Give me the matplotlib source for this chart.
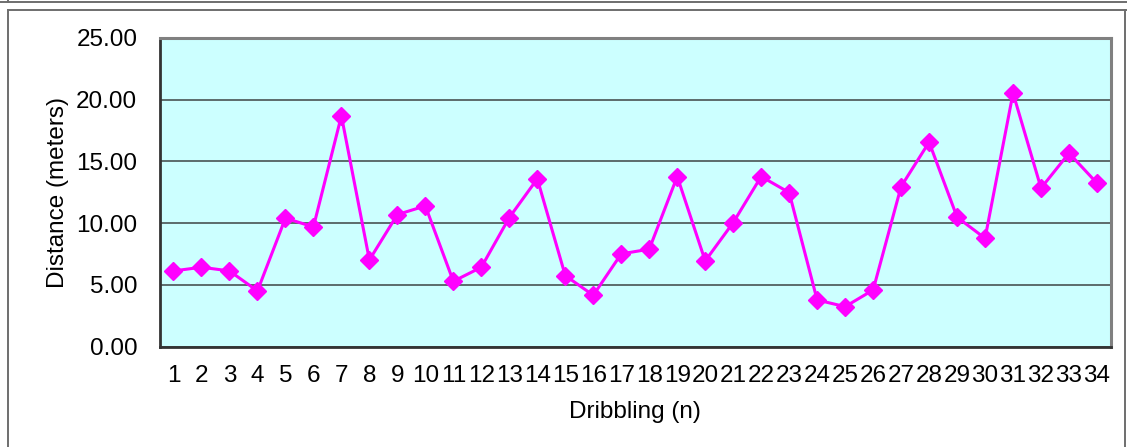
import matplotlib
matplotlib.use("Agg")
import matplotlib.pyplot as plt
from matplotlib.lines import Line2D

plt.rcParams['font.family'] = ['Liberation Sans', 'DejaVu Sans']

# distance covered per dribbling trial
trials = list(range(1, 35))
distance = [6.13, 6.43, 6.13, 4.51, 10.40, 9.69, 18.68, 7.02, 10.69, 11.39,
            5.29, 6.43, 10.45, 13.58, 5.75, 4.16, 7.51, 7.89, 13.77, 6.94,
            10.04, 13.77, 12.47, 3.78, 3.24, 4.59, 12.96, 16.55, 10.48, 8.77,
            20.52, 12.83, 15.66, 13.23]
y_ticks = [0, 5, 10, 15, 20, 25]

W, H = 1127, 447
fig = plt.figure(figsize=(W / 100, H / 100), dpi=100)

def px(x0, y0, x1, y1, **kw):
    fig.add_artist(Line2D([x0 / W, x1 / W], [1 - y0 / H, 1 - y1 / H],
                          transform=fig.transFigure, **kw))

# chart frame
px(0, 2, W, 2, color='#6e6e6e', lw=1.4)
px(8, 0, 8, 2, color='#6e6e6e', lw=1.4)
px(8, 9.5, W, 9.5, color='#6e6e6e', lw=1.4)
px(8, 9.5, 8, H, color='#6e6e6e', lw=1.4)
px(1125, 9.5, 1125, H, color='#6e6e6e', lw=1.4)

ax = fig.add_axes([159.5 / W, (H - 346.7) / H, 951.5 / W, 309 / H])
ax.set_facecolor('#CCFFFF')

ax.plot(trials, distance, color='#FF00FF', lw=2.2, marker='D',
        markersize=9.5, markerfacecolor='#FF00FF', markeredgecolor='#FF00FF',
        zorder=3)

ax.set_xlim(0.5, 34.5)
ax.set_ylim(0, 25)
ax.set_yticks(y_ticks)
ax.set_yticklabels([f'{v:.2f}' for v in y_ticks])
ax.set_xticks(trials)
ax.set_xticklabels([str(t) for t in trials])
ax.grid(axis='y', color='#536060', lw=1.3, zorder=1)
ax.set_axisbelow(True)

ax.tick_params(axis='y', length=0, pad=16, labelsize=17.5)
ax.tick_params(axis='x', length=0, pad=13, labelsize=17.5)

for side in ['top', 'right']:
    ax.spines[side].set_color('#808080')
    ax.spines[side].set_linewidth(2.2)
for side in ['left', 'bottom']:
    ax.spines[side].set_color('#333333')
    ax.spines[side].set_linewidth(2.0)

ax.set_ylabel('Distance (meters)', fontsize=17.5, labelpad=5)
ax.set_xlabel('Dribbling (n)', fontsize=17.5, labelpad=10)

fig.savefig('out.png', dpi=100)
